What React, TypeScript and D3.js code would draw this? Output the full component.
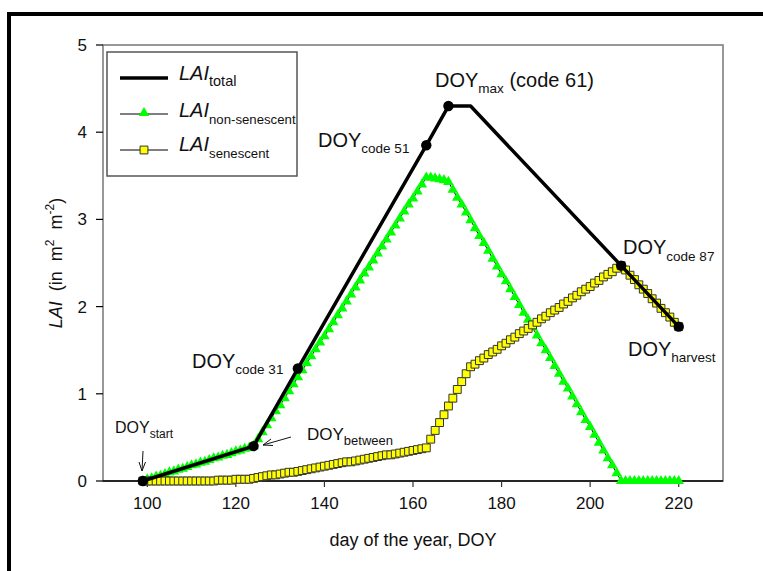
import * as d3 from "d3";

// day-of-year index of the daily series
const firstDay = 99;

// daily LAI of the green (non-senescent) part, DOY 99..220
const laiGreen = [
  0, 0.02, 0.03, 0.05, 0.06, 0.08, 0.1, 0.11, 0.13, 0.14, 0.16, 0.18, 0.19, 0.21, 0.22, 0.24, 0.26, 0.27, 0.29, 0.3,
  0.32, 0.34, 0.35, 0.37, 0.38, 0.4,
  0.48, 0.56, 0.64, 0.72, 0.8, 0.87, 0.95, 1.03, 1.11, 1.19, 1.27, 1.35, 1.43, 1.51, 1.59, 1.66, 1.74, 1.82, 1.9, 1.98,
  2.06, 2.14, 2.22, 2.3, 2.38, 2.45, 2.53, 2.61, 2.69, 2.77, 2.85, 2.93, 3.01, 3.09, 3.17, 3.24, 3.32, 3.4, 3.48,
  3.48, 3.47, 3.46, 3.45, 3.43,
  3.34, 3.25, 3.17, 3.08, 2.99, 2.9, 2.81, 2.73, 2.64, 2.55, 2.46, 2.37, 2.29, 2.2, 2.11, 2.02, 1.93, 1.85, 1.76, 1.67,
  1.58, 1.5, 1.41, 1.32, 1.23, 1.14, 1.06, 0.97, 0.88, 0.79, 0.7, 0.62, 0.53, 0.44, 0.35, 0.26, 0.18, 0.09, 0,
  0, 0, 0, 0, 0, 0, 0, 0, 0, 0, 0, 0, 0,
];

// daily LAI of the senescent part, DOY 99..220
const laiSenescent = [
  0, 0, 0, 0, 0, 0, 0, 0, 0, 0, 0, 0, 0, 0, 0, 0,
  0, 0.01, 0.01, 0.01, 0.01, 0.02, 0.02, 0.02, 0.02, 0.03,
  0.04, 0.05, 0.06, 0.07, 0.07, 0.08, 0.09, 0.1, 0.1, 0.11, 0.12, 0.13, 0.14, 0.15, 0.16, 0.17, 0.18, 0.19, 0.2, 0.21,
  0.22, 0.22, 0.23, 0.24, 0.25, 0.26, 0.27, 0.28, 0.29, 0.3, 0.3, 0.31, 0.32, 0.33, 0.34, 0.35, 0.36, 0.37, 0.38,
  0.48, 0.58, 0.67, 0.76, 0.86, 0.95, 1.05, 1.14, 1.23, 1.31,
  1.34, 1.38, 1.41, 1.45, 1.48, 1.51, 1.55, 1.58, 1.62, 1.65, 1.69, 1.72, 1.75, 1.79, 1.82, 1.86, 1.89, 1.93, 1.96, 1.99,
  2.03, 2.06, 2.1, 2.13, 2.17, 2.2, 2.23, 2.27, 2.3, 2.34, 2.37, 2.4, 2.44, 2.47,
  2.42, 2.36, 2.31, 2.25, 2.2, 2.15, 2.09, 2.04, 1.98, 1.93, 1.88, 1.82, 1.77,
];

// total LAI polyline
const totalDays = [99, 124, 134, 163, 168, 173, 207, 220];
const totalLai = [0, 0.4, 1.29, 3.85, 4.3, 4.3, 2.47, 1.77];
// days marked with a dot on the total line
const markDays = [99, 124, 134, 163, 168, 207, 220];

const xTicks = [100, 120, 140, 160, 180, 200, 220];
const yTicks = [0, 1, 2, 3, 4, 5];

const FONT = "'Liberation Sans', Arial, Helvetica, sans-serif";

export default function App() {
  const W = 763, H = 571;
  const left = 103, right = 723, top = 45, bottom = 481;

  const x = d3.scaleLinear().domain([90, 230]).range([left, right]);
  const y = d3.scaleLinear().domain([0, 5]).range([bottom, top]);

  const days = laiGreen.map((_, i) => firstDay + i);
  const greenPts = days.map((d, i) => [d, laiGreen[i]] as [number, number]);
  const senPts = days.map((d, i) => [d, laiSenescent[i]] as [number, number]);
  const totalPts = totalDays.map((d, i) => [d, totalLai[i]] as [number, number]);

  const line = d3.line<[number, number]>().x(d => x(d[0])).y(d => y(d[1]));
  const tri = d3.symbol().type(d3.symbolTriangle).size(48)()!;
  const sq = d3.symbol().type(d3.symbolSquare).size(62)()!;

  const totalAt = (d: number) => totalLai[totalDays.indexOf(d)];

  return (
    <svg width={W} height={H} style={{ display: "block", position: "absolute", left: 0, top: 0 }} fontFamily={FONT}>
      <rect x={0} y={0} width={W} height={H} fill="#fff" />
      {/* page frame */}
      <line x1={9} y1={14} x2={W} y2={14} stroke="#000" strokeWidth={4} />
      <line x1={9} y1={12} x2={9} y2={H} stroke="#000" strokeWidth={4} />

      {/* plot frame */}
      <rect x={left} y={top} width={right - left} height={bottom - top} fill="none" stroke="#777" strokeWidth={1.5} />
      <line x1={left} y1={bottom} x2={right} y2={bottom} stroke="#000" strokeWidth={1.5} />

      {/* y axis */}
      {yTicks.map(t => (
        <g key={"y" + t}>
          <line x1={left - 7} x2={left} y1={y(t)} y2={y(t)} stroke="#000" strokeWidth={1.2} />
          <text x={87} y={y(t) + 6} textAnchor="end" fontSize={17} fill="#111">{t}</text>
        </g>
      ))}
      {/* x axis */}
      {xTicks.map(t => (
        <g key={"x" + t}>
          <line x1={x(t)} x2={x(t)} y1={bottom} y2={bottom + 6} stroke="#333" strokeWidth={1.2} />
          <text x={x(t)} y={bottom + 28} textAnchor="middle" fontSize={17} fill="#111">{t}</text>
        </g>
      ))}

      <text x={(left + right) / 2} y={546} textAnchor="middle" fontSize={18} fill="#111">day of the year, DOY</text>
      <text transform={`translate(62, ${(top + bottom) / 2}) rotate(-90)`} textAnchor="middle" fontSize={18} fill="#111">
        <tspan fontStyle="italic">LAI</tspan>
        <tspan>{"\u00a0 (in\u00a0 m"}</tspan>
        <tspan fontSize={12} dy={-8}>2</tspan>
        <tspan dy={8}>{"\u00a0 m"}</tspan>
        <tspan fontSize={12} dy={-8}>-2</tspan>
        <tspan dy={8}>)</tspan>
      </text>

      {/* non-senescent series */}
      <path d={line(greenPts)!} fill="none" stroke="#000" strokeWidth={1} />
      {greenPts.map((p, i) => (
        <path key={"g" + i} d={tri} transform={`translate(${x(p[0])},${y(p[1])})`} fill="#00ff00" />
      ))}

      {/* senescent series */}
      <path d={line(senPts)!} fill="none" stroke="#000" strokeWidth={1} />
      {senPts.map((p, i) => (
        <path key={"s" + i} d={sq} transform={`translate(${x(p[0])},${y(p[1])})`} fill="#ffff00" stroke="#333" strokeWidth={1} />
      ))}

      {/* total */}
      <path d={line(totalPts)!} fill="none" stroke="#000" strokeWidth={3.5} strokeLinejoin="round" />
      {markDays.map(d => (
        <circle key={"m" + d} cx={x(d)} cy={y(totalAt(d))} r={5.2} fill="#000" />
      ))}

      {/* annotations */}
      <g fill="#111">
        <text x={115} y={433} fontSize={16}>DOY<tspan fontSize={12} dy={5}>start</tspan></text>
        <text x={307} y={440} fontSize={17}>DOY<tspan fontSize={13} dy={5}>between</tspan></text>
        <text x={192} y={368} fontSize={20}>DOY<tspan fontSize={13.5} dy={6}>code 31</tspan></text>
        <text x={318} y={147} fontSize={20}>DOY<tspan fontSize={13.5} dy={6}>code 51</tspan></text>
        <text x={435} y={87} fontSize={20}>DOY<tspan fontSize={13.5} dy={6}>max</tspan><tspan dy={-6}> (code 61)</tspan></text>
        <text x={623} y={254} fontSize={20}>DOY<tspan fontSize={13.5} dy={7}>code 87</tspan></text>
        <text x={628} y={356} fontSize={20}>DOY<tspan fontSize={13.5} dy={6}>harvest</tspan></text>
      </g>
      <g stroke="#111" strokeWidth={1} fill="none">
        <path d="M143,451 L142,471" />
        <path d="M139,462 L142,471 L145.5,462" />
        <path d="M291,437 L263,445" />
        <path d="M271,439 L263,445 L273,445.5" />
      </g>

      {/* legend */}
      <rect x={107} y={52} width={190} height={124} fill="#fff" stroke="#555" strokeWidth={1.5} />
      <line x1={120} x2={168} y1={78} y2={78} stroke="#000" strokeWidth={3.5} />
      <line x1={120} x2={168} y1={114} y2={114} stroke="#000" strokeWidth={1} />
      <path d={tri} transform="translate(144,113)" fill="#00ff00" />
      <line x1={120} x2={168} y1={150} y2={150} stroke="#000" strokeWidth={1} />
      <path d={sq} transform="translate(144,150)" fill="#ffff00" stroke="#333" strokeWidth={1} />
      <g fill="#111">
        <text x={179} y={80} fontSize={20}><tspan fontStyle="italic">LAI</tspan><tspan fontSize={14.5} dy={6}>total</tspan></text>
        <text x={179} y={117} fontSize={20}><tspan fontStyle="italic">LAI</tspan><tspan fontSize={13.2} dy={7}>non-senescent</tspan></text>
        <text x={179} y={151} fontSize={20}><tspan fontStyle="italic">LAI</tspan><tspan fontSize={13.2} dy={7}>senescent</tspan></text>
      </g>
    </svg>
  );
}
